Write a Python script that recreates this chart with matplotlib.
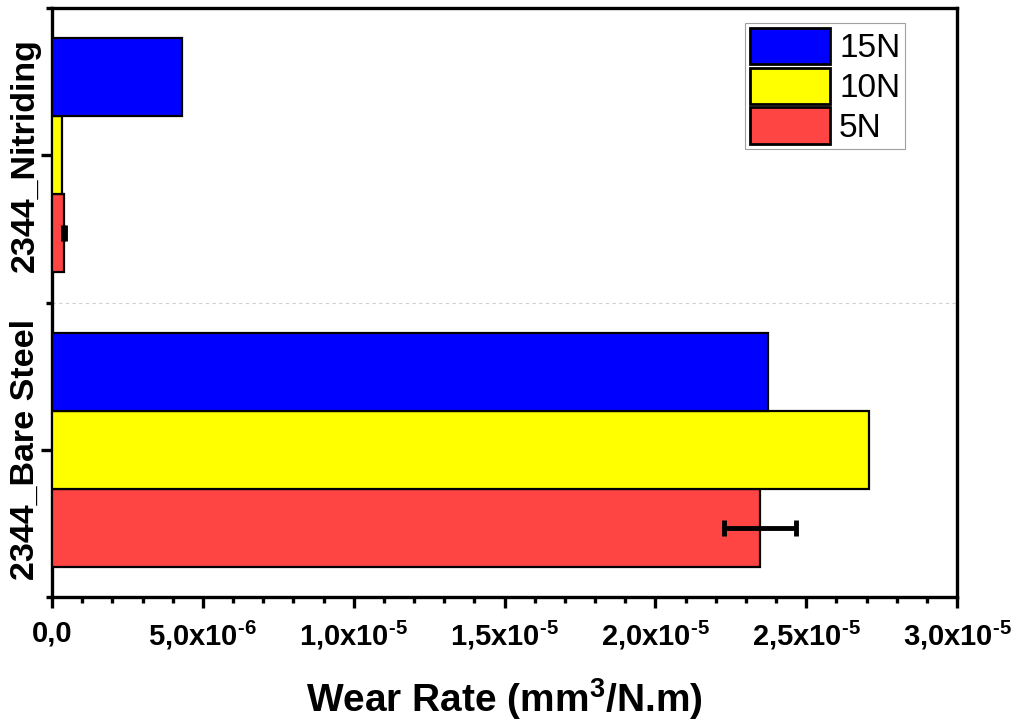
import matplotlib
matplotlib.use("Agg")
import matplotlib.pyplot as plt
import numpy as np

categories = ["2344_Bare Steel", "2344_Nitriding"]
loads = ["5N", "10N", "15N"]
colors = ["#FF4444", "#FFFF00", "#0000FF"]
wear_5N = [2.347e-5, 0.40e-6]
wear_10N = [2.708e-5, 0.32e-6]
wear_15N = [2.373e-5, 4.30e-6]
err_5N = [1.18e-6, 0.03e-6]
xtick_values = [0, 5e-6, 1e-5, 1.5e-5, 2e-5, 2.5e-5, 3e-5]
xtick_labels = ["0,0", r"5,0x10$^{\text{-6}}$", r"1,0x10$^{\text{-5}}$", r"1,5x10$^{\text{-5}}$",
                r"2,0x10$^{\text{-5}}$", r"2,5x10$^{\text{-5}}$", r"3,0x10$^{\text{-5}}$"]

plt.rcParams["font.family"] = ["Liberation Sans", "DejaVu Sans"]
plt.rcParams["mathtext.fontset"] = "custom"
plt.rcParams["mathtext.rm"] = "Liberation Sans:bold"
plt.rcParams["mathtext.bf"] = "Liberation Sans:bold"
plt.rcParams["mathtext.default"] = "bf"

fig = plt.figure(figsize=(10.22, 7.26), dpi=100)
ax = fig.add_axes([52/1022, 1-597/726, (957-52)/1022, (597-8)/726])

y = np.arange(len(categories))
h = 0.265
series = [wear_5N, wear_10N, wear_15N]
offsets = [-h, 0, h]
handles = []
for vals, off, c, lab in zip(series, offsets, colors, loads):
    b = ax.barh(y + off, vals, height=h, color=c, edgecolor="black", linewidth=1.6, label=lab, zorder=3)
    handles.append(b)
ax.errorbar(wear_5N, y - h, xerr=err_5N, fmt="none", ecolor="black", elinewidth=3.5,
            capsize=6, capthick=3.5, zorder=4)

ax.axhline(0.5, color="#d0d0d0", linestyle=(0, (3, 3)), linewidth=0.8, zorder=1)

ax.set_xlim(0, 3e-5)
ax.set_ylim(-0.5, 1.5)
ax.set_xticks(xtick_values)
ax.set_xticklabels(xtick_labels, fontsize=21, fontweight="bold")
ax.set_xticks(np.arange(0, 3.01e-5, 1e-6), minor=True)
ax.set_yticks(y)
ax.set_yticklabels(categories, fontsize=24.5, fontweight="bold", rotation=90, va="center")
ax.set_yticks([-0.5, 0.5, 1.5], minor=True)

for s in ax.spines.values():
    s.set_linewidth(2.4)
ax.tick_params(axis="both", which="major", direction="out", length=8, width=2.4)
ax.tick_params(axis="both", which="minor", direction="out", length=4, width=2.4)
ax.tick_params(axis="x", pad=8)
ax.tick_params(axis="y", pad=0)

ax.set_xlabel("Wear Rate (mm$^{3}$/N.m)", fontsize=28, fontweight="bold", labelpad=17)

leg = ax.legend(handles[::-1], loads[::-1], loc="upper left",
                bbox_to_anchor=(745/1022, 1-23/726), bbox_transform=fig.transFigure,
                borderaxespad=0, fontsize=24, frameon=True, fancybox=False,
                handlelength=2.4, handleheight=1.3, labelspacing=0.1,
                handletextpad=0.27, borderpad=0.15)
leg.get_frame().set_edgecolor("#888888")
leg.get_frame().set_linewidth(0.8)
for p in leg.get_patches():
    p.set_linewidth(2.0)

fig.savefig("out.png", dpi=100)
